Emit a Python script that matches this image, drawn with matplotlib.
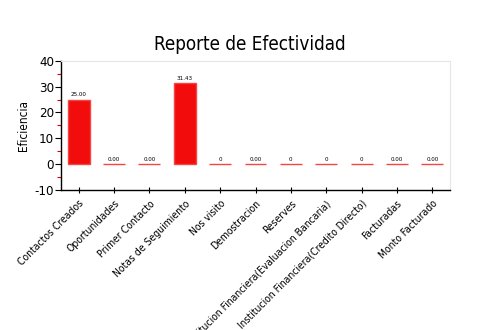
import numpy as np
import matplotlib.pyplot as plt
from matplotlib.ticker import MultipleLocator

categorias = ["Contactos Creados", "Oportunidades", "Primer Contacto",
              "Notas de Seguimiento", "Nos visito", "Demostracion", "Reserves",
              "Institucion Financiera(Evaluacion Bancaria)",
              "Institucion Financiera(Credito Directo)", "Facturadas",
              "Monto Facturado"]
valores = [25.00, 0.00, 0.00, 31.43, 0, 0.00, 0, 0, 0, 0.00, 0.00]
etiquetas = ["25.00", "0.00", "0.00", "31.43", "0", "0.00", "0", "0", "0",
             "0.00", "0.00"]

plt.rcParams['font.family'] = ['DejaVu Sans']
plt.rcParams['font.stretch'] = 'condensed'
plt.rcParams['font.weight'] = 'light'
plt.rcParams['axes.unicode_minus'] = False

fig = plt.figure(figsize=(5, 3.3), dpi=100)
ax = fig.add_axes([0.122, 0.424, 0.778, 0.392])

x = np.arange(len(categorias))
barras = ax.bar(x, valores, width=0.62, color="#f20c0c",
                edgecolor="#f54545", linewidth=1.0)
for xi, v, et in zip(x, valores, etiquetas):
    ax.text(xi, v + 0.8, et, ha="center", va="bottom", fontsize=4.5)

ax.set_xlim(-0.5, len(categorias) - 0.5)
ax.set_ylim(-10, 40)
ax.yaxis.set_major_locator(MultipleLocator(10))
ax.yaxis.set_minor_locator(MultipleLocator(5))
ax.tick_params(axis="y", which="major", direction="out", length=4,
               labelsize=9.5, width=0.8, pad=1)
ax.tick_params(axis="y", which="minor", direction="out", length=3,
               color="#e00000", width=0.8)
ax.tick_params(axis="x", direction="inout", length=5, labelsize=7.5, width=0.8)
ax.set_xticks(x)
ax.set_xticklabels(categorias, rotation=45, ha="right", rotation_mode="anchor")

for lado in ["top", "right"]:
    ax.spines[lado].set_color("#e6e6e6")
    ax.spines[lado].set_linewidth(0.8)
for lado in ["left", "bottom"]:
    ax.spines[lado].set_linewidth(1.0)

ax.set_ylabel("Eficiencia", fontsize=8.5, labelpad=3)
fig.text(0.5, 0.865, "Reporte de Efectividad", fontsize=13.5, ha="center",
         va="center", stretch="condensed")

fig.savefig("out.png", dpi=100)
